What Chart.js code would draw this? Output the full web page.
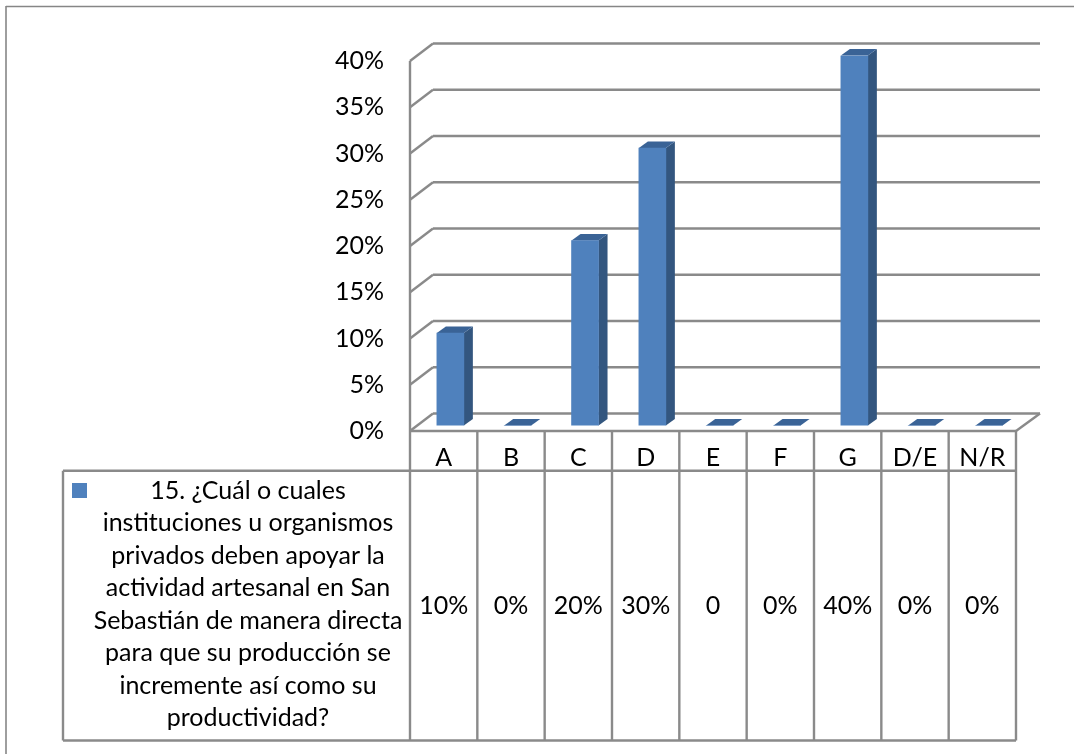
<!DOCTYPE html>
<html><head><meta charset="utf-8">
<style>html,body{margin:0;padding:0;background:#fff}#w{width:1074px;height:754px;position:relative}</style>
<script src="https://cdn.jsdelivr.net/npm/chart.js@4"></script></head>
<body><div id="w"><canvas id="c" width="1074" height="754"></canvas></div>
<script>
const categories = ["A","B","C","D","E","F","G","D/E","N/R"];
const values = [10,0,20,30,0,0,40,0,0];
const tableLabels = ["10%","0%","20%","30%","0","0%","40%","0%","0%"];
const yTicks = [0,5,10,15,20,25,30,35,40];
const legendLines = ["15. ¿Cuál o cuales","instituciones u organismos","privados deben apoyar la","actividad artesanal en San","Sebastián de manera directa","para que su producción se","incremente así como su","productividad?"];
const FONT = "Lato, Carlito, Calibri, sans-serif";
const GRID = "#8a8a8a", FRONT="#4f81bd", SIDE="#33567f", TOP="#3a6396";
const wall = {dx:23, dy:-17.5};      // back wall offset
const barPlane = {dx:6.7, dy:-5.4};  // bar front plane offset
const depth = {dx:9, dy:-6.6};
function seg(ctx,x1,y1,x2,y2,w,col){ctx.beginPath();ctx.moveTo(x1,y1);ctx.lineTo(x2,y2);ctx.lineWidth=w;ctx.strokeStyle=col||GRID;ctx.stroke();}
const scene = {
  id:'scene',
  beforeDatasetsDraw(chart){
    const {ctx,scales:{x,y},chartArea:a}=chart;
    ctx.save();
    // page frame
    seg(ctx,6,6.5,1074,6.5,1.6,"#868686");
    seg(ctx,6,6,6,754,1.6,"#868686");
    // wall gridlines
    yTicks.forEach(t=>{
      const py=y.getPixelForValue(t);
      seg(ctx,a.left,py,a.left+wall.dx,py+wall.dy,2.4);
      seg(ctx,a.left+wall.dx,py+wall.dy,a.right+wall.dx+1,py+wall.dy,2.4);
    });
    seg(ctx,a.left,y.getPixelForValue(40),a.left,a.bottom,2.4);
    seg(ctx,a.right,a.bottom,a.right+wall.dx+1,a.bottom+wall.dy,2.4);
    // table
    const rowTop=a.bottom, row2=470.8, rowEnd=740.5, L=63;
    seg(ctx,a.left,rowTop,a.right,rowTop,2.4);
    seg(ctx,L,row2,a.right,row2,2.4);
    seg(ctx,L,rowEnd,a.right,rowEnd,2.4);
    seg(ctx,L,row2,L,rowEnd,2.4);
    const cw=(a.right-a.left)/categories.length;
    for(let i=0;i<=categories.length;i++){const px=a.left+i*cw;seg(ctx,px,rowTop,px,rowEnd,2.4);}
    ctx.fillStyle="#000";ctx.font="25px "+FONT;ctx.textAlign="center";ctx.textBaseline="middle";
    tableLabels.forEach((t,i)=>ctx.fillText(t,x.getPixelForValue(i),606));
    ctx.fillStyle=FRONT;ctx.fillRect(72,483,15,15);
    ctx.fillStyle="#000";
    legendLines.forEach((t,i)=>ctx.fillText(t,248,490.5+i*32.5));
    ctx.restore();
    ctx.save();
    ctx.translate(barPlane.dx,barPlane.dy);
    // 3D sides
    const m=chart.getDatasetMeta(0);
    m.data.forEach(b=>{
      const l=b.x-b.width/2,r=b.x+b.width/2,t=b.y,bt=b.base;
      ctx.fillStyle=SIDE;ctx.beginPath();ctx.moveTo(r,t);ctx.lineTo(r+depth.dx,t+depth.dy);ctx.lineTo(r+depth.dx,bt+depth.dy);ctx.lineTo(r,bt);ctx.closePath();ctx.fill();
      ctx.fillStyle=TOP;ctx.beginPath();ctx.moveTo(l,t);ctx.lineTo(l+depth.dx,t+depth.dy);ctx.lineTo(r+depth.dx,t+depth.dy);ctx.lineTo(r,t);ctx.closePath();ctx.fill();
    });
  },
  afterDatasetsDraw(chart){chart.ctx.restore();}
};
new Chart(document.getElementById('c'),{
  type:'bar',
  data:{labels:categories,datasets:[{label:legendLines.join(" "),data:values,backgroundColor:FRONT,barThickness:27}]},
  options:{
    responsive:false,animation:false,
    layout:{padding:{top:61,right:58,left:0,bottom:250}},
    plugins:{legend:{display:false},tooltip:{enabled:false}},
    scales:{
      x:{position:'bottom',grid:{display:false},border:{display:false},
         afterFit(s){s.height=73;},
         ticks:{color:"#000",font:{family:FONT,size:25},padding:4,maxRotation:0,autoSkip:false}},
      y:{min:0,max:40,position:'left',grid:{display:false},border:{display:false},
         afterFit(s){s.width=410;},
         afterBuildTicks(s){s.ticks=yTicks.map(v=>({value:v}));},
         ticks:{color:"#000",font:{family:FONT,size:25},padding:18,callback:v=>v+"%"}}
    }
  },
  plugins:[scene]
});
</script></body></html>
